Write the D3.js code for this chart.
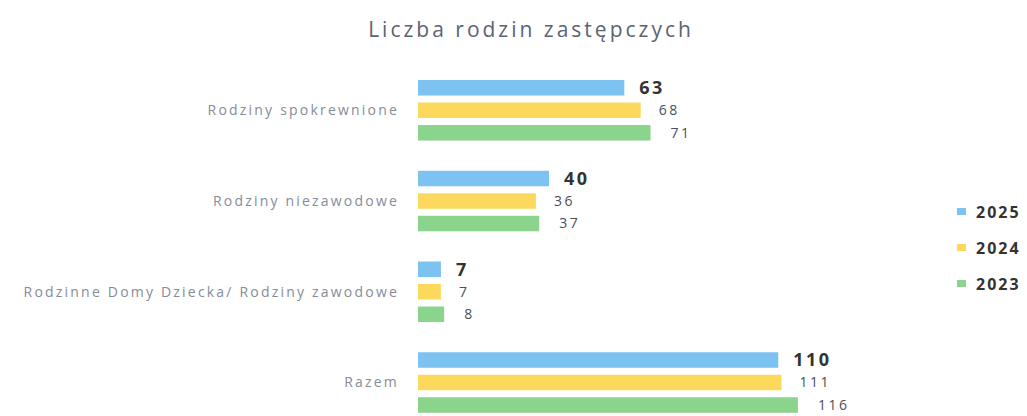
<!DOCTYPE html>
<html>
<head>
<meta charset="utf-8">
<script src="https://cdn.jsdelivr.net/npm/d3@7"></script>
<style>
  body { margin: 0; background: #fff; }
  text { font-family: "Open Sans", sans-serif; }
</style>
</head>
<body>
<svg class="chart"></svg>
<script>
let width = 1027,
height = 416;

// data
let categories = ["Rodziny spokrewnione", "Rodziny niezawodowe", "Rodzinne Domy Dziecka/ Rodziny zawodowe", "Razem"];
let years = ["2025", "2024", "2023"];
let values2025 = [63, 40, 7, 110];
let values2024 = [68, 36, 7, 111];
let values2023 = [71, 37, 8, 116];
let colors = ["#7dc3f2", "#fcd95c", "#8ad48b"];

let seriesValues = [values2025, values2024, values2023];

let svg = d3.select(".chart").attr("width", width).attr("height", height);

// title
svg.append("text")
  .attr("x", 531)
  .attr("y", 37)
  .attr("text-anchor", "middle")
  .attr("fill", "#5b6472")
  .style("font-size", "21px")
  .style("letter-spacing", "3px")
  .text("Liczba rodzin zastępczych");

let y0 = d3.scaleBand()
  .domain(categories)
  .range([64.9, 427.9])
  .paddingInner(0.333)
  .paddingOuter(0.1667);

let y1 = d3.scaleBand()
  .domain(years)
  .range([0, y0.bandwidth()])
  .paddingInner(0.311);

let x = d3.scaleLinear().domain([0, 120]).range([418, 811]);

let groups = svg.append("g")
  .selectAll("g")
  .data(categories)
  .enter()
  .append("g")
  .attr("transform", (d) => "translate(0," + y0(d) + ")");

// category labels
groups.append("text")
  .attr("x", 399)
  .attr("y", y1("2024") + y1.bandwidth() / 2)
  .attr("dy", "0.35em")
  .attr("text-anchor", "end")
  .attr("fill", "#868c98")
  .style("font-size", "14px")
  .style("letter-spacing", "2.2px")
  .text((d) => d);

groups.each(function (cat, ci) {
  let g = d3.select(this);
  years.forEach((yr, si) => {
    let v = seriesValues[si][ci];
    g.append("rect")
      .attr("x", x(0))
      .attr("y", y1(yr))
      .attr("width", x(v) - x(0))
      .attr("height", y1.bandwidth())
      .attr("fill", colors[si]);
    g.append("text")
      .attr("x", x(v) + (si == 0 ? 15 : 16 + si * 2))
      .attr("y", y1(yr) + y1.bandwidth() / 2)
      .attr("dy", "0.35em")
      .attr("fill", si == 0 ? "#333" : "#4a4f58")
      .style("font-size", si == 0 ? "18px" : "14px")
      .style("font-weight", si == 0 ? "bold" : "normal")
      .style("letter-spacing", si == 0 ? "2.5px" : "2.5px")
      .text(v);
  });
});

// legend
let legend = svg.append("g")
  .selectAll("g")
  .data(years)
  .enter()
  .append("g")
  .attr("transform", (d, i) => "translate(957," + (212 + i * 36) + ")");

legend.append("rect")
  .attr("x", 0)
  .attr("y", -4)
  .attr("width", 9)
  .attr("height", 7)
  .attr("fill", (d, i) => colors[i]);

legend.append("text")
  .attr("x", 19)
  .attr("y", 0)
  .attr("dy", "0.35em")
  .attr("fill", "#333")
  .style("font-size", "16px")
  .style("font-weight", "bold")
  .style("letter-spacing", "2px")
  .text((d) => d);
</script>
</body>
</html>
